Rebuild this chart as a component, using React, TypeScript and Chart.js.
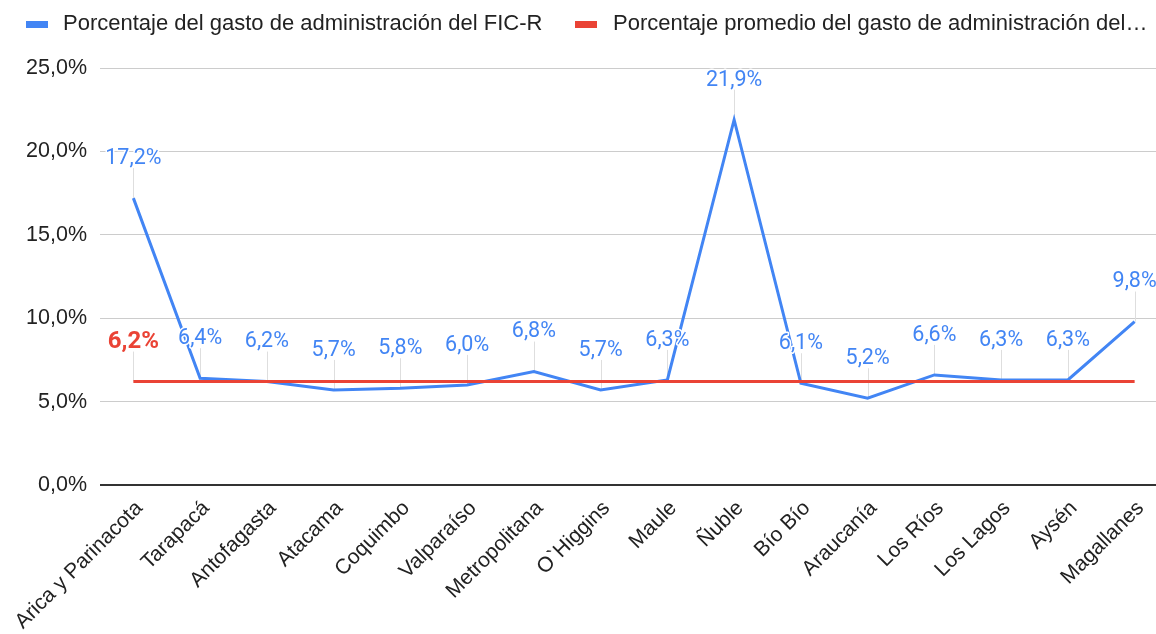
import React, { useEffect, useRef } from 'react';
import { Chart, registerables } from 'chart.js';

Chart.register(...registerables);

// ---- Data ----
const categories = [
  'Arica y Parinacota',
  'Tarapacá',
  'Antofagasta',
  'Atacama',
  'Coquimbo',
  'Valparaíso',
  'Metropolitana',
  'O`Higgins',
  'Maule',
  'Ñuble',
  'Bío Bío',
  'Araucanía',
  'Los Ríos',
  'Los Lagos',
  'Aysén',
  'Magallanes',
];

const adminPct = [17.2, 6.4, 6.2, 5.7, 5.8, 6.0, 6.8, 5.7, 6.3, 21.9, 6.1, 5.2, 6.6, 6.3, 6.3, 9.8];
const avgAdminPct = [6.2, 6.2, 6.2, 6.2, 6.2, 6.2, 6.2, 6.2, 6.2, 6.2, 6.2, 6.2, 6.2, 6.2, 6.2, 6.2];
const avgLabelIndexes = [0];

const yTicks = [0, 5, 10, 15, 20, 25];

const seriesNames = [
  'Porcentaje del gasto de administración del FIC-R',
  'Porcentaje promedio del gasto de administración del…',
];

const BLUE = '#4285F4';
const RED = '#EA4335';
const ARIAL = '"Liberation Sans", Arial, Helvetica, sans-serif';
const ROBOTO = 'Roboto, "Liberation Sans", Arial, sans-serif';

const fmt = (v: number) => v.toFixed(1).replace('.', ',') + '%';

const LABEL_OFFSET = 41;
const TEXT_SHIFT = 1.5;

const labelPlugin = {
  id: 'pointLabels',
  beforeDatasetsDraw(chart: any) {
    const ctx = chart.ctx as CanvasRenderingContext2D;
    ctx.save();
    ctx.strokeStyle = '#dedede';
    ctx.lineWidth = 1;
    const drawLeader = (x: number, y: number) => {
      const xx = Math.round(x) + 0.5;
      ctx.beginPath();
      ctx.moveTo(xx, y - LABEL_OFFSET + 11);
      ctx.lineTo(xx, y);
      ctx.stroke();
    };
    const blue = chart.getDatasetMeta(0);
    blue.data.forEach((p: any) => drawLeader(p.x, p.y));
    const red = chart.getDatasetMeta(1);
    avgLabelIndexes.forEach((i) => {
      const p = red.data[i];
      if (p) drawLeader(p.x, p.y);
    });
    ctx.restore();
  },
  afterDatasetsDraw(chart: any) {
    const ctx = chart.ctx as CanvasRenderingContext2D;
    ctx.save();
    ctx.textAlign = 'center';
    ctx.textBaseline = 'middle';
    ctx.lineJoin = 'round';
    const drawText = (text: string, x: number, y: number, color: string, font: string) => {
      ctx.font = font;
      ctx.strokeStyle = '#ffffff';
      ctx.lineWidth = 3;
      ctx.strokeText(text, x, y);
      ctx.fillStyle = color;
      ctx.fillText(text, x, y);
    };
    const blue = chart.getDatasetMeta(0);
    blue.data.forEach((p: any, i: number) => {
      drawText(fmt(adminPct[i]), p.x, p.y - LABEL_OFFSET + TEXT_SHIFT, BLUE, `21.5px ${ROBOTO}`);
    });
    const red = chart.getDatasetMeta(1);
    avgLabelIndexes.forEach((i) => {
      const p = red.data[i];
      if (p) drawText(fmt(avgAdminPct[i]), p.x, p.y - LABEL_OFFSET + TEXT_SHIFT, RED, `bold 24px ${ROBOTO}`);
    });
    ctx.restore();
  },
};

const legendPlugin = {
  id: 'customLegend',
  afterDraw(chart: any) {
    const ctx = chart.ctx as CanvasRenderingContext2D;
    ctx.save();
    const items = [
      { box: 26, text: 63, color: BLUE, label: seriesNames[0] },
      { box: 575, text: 613, color: RED, label: seriesNames[1] },
    ];
    ctx.font = `22px ${ARIAL}`;
    ctx.textBaseline = 'middle';
    ctx.textAlign = 'left';
    items.forEach((it) => {
      ctx.fillStyle = it.color;
      ctx.fillRect(it.box, 21, 22, 7);
      ctx.fillStyle = '#222222';
      ctx.fillText(it.label, it.text, 23.5);
    });
    ctx.restore();
  },
};

export default function App() {
  const canvasRef = useRef<HTMLCanvasElement | null>(null);

  useEffect(() => {
    if (!canvasRef.current) return;
    const chart = new Chart(canvasRef.current, {
      type: 'line',
      data: {
        labels: categories,
        datasets: [
          {
            label: seriesNames[0],
            data: adminPct,
            borderColor: BLUE,
            backgroundColor: BLUE,
            borderWidth: 3,
            pointRadius: 0,
            pointHoverRadius: 0,
            tension: 0,
            order: 1,
          },
          {
            label: seriesNames[1],
            data: avgAdminPct,
            borderColor: RED,
            backgroundColor: RED,
            borderWidth: 3,
            pointRadius: 0,
            pointHoverRadius: 0,
            tension: 0,
            order: 0,
          },
        ],
      },
      options: {
        responsive: false,
        animation: false,
        devicePixelRatio: 1,
        layout: { padding: { top: 68, right: 2, left: 0, bottom: 0 } },
        plugins: {
          legend: { display: false },
          tooltip: { enabled: false },
        },
        scales: {
          x: {
            offset: true,
            grid: { display: false, drawTicks: false },
            border: { display: false },
            ticks: {
              autoSkip: false,
              maxRotation: 45,
              minRotation: 45,
              padding: 11,
              labelOffset: 6,
              color: '#222222',
              font: { family: ARIAL, size: 21 },
            },
            afterFit: (scale: any) => {
              scale.height = 149;
              scale.paddingLeft = 0;
              scale.paddingRight = 0;
            },
          },
          y: {
            min: 0,
            max: 25,
            afterBuildTicks: (scale: any) => {
              scale.ticks = yTicks.map((v) => ({ value: v }));
            },
            grid: {
              drawTicks: false,
              color: (c: any) => (c.tick && c.tick.value === 0 ? '#333333' : '#cccccc'),
              lineWidth: (c: any) => (c.tick && c.tick.value === 0 ? 2 : 1),
            },
            border: { display: false },
            ticks: {
              padding: 13,
              color: '#222222',
              font: { family: ARIAL, size: 21.5 },
              callback: (v: any) => fmt(Number(v)),
            },
            afterFit: (scale: any) => {
              scale.width = 100;
            },
          },
        },
      },
      plugins: [labelPlugin, legendPlugin],
    });
    return () => chart.destroy();
  }, []);

  return (
    <div
      style={{
        position: 'fixed',
        left: 0,
        top: 0,
        width: 1156,
        height: 634,
        overflow: 'hidden',
        background: '#ffffff',
      }}
    >
      <canvas ref={canvasRef} width={1170} height={634} style={{ display: 'block' }} />
    </div>
  );
}
